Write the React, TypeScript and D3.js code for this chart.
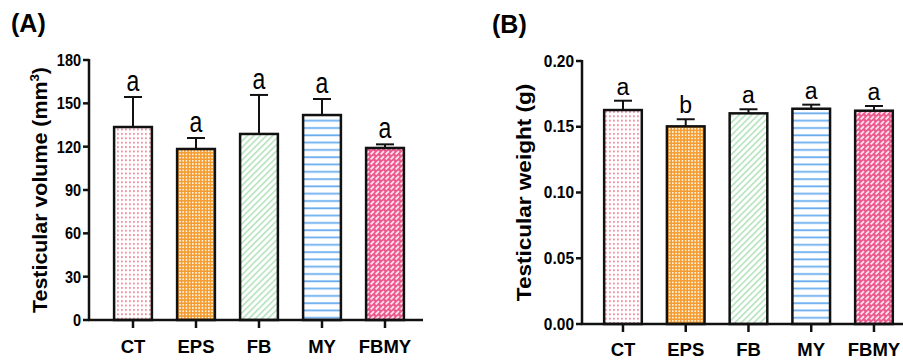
import React from 'react';
import * as d3 from 'd3';

const groups = ['CT', 'EPS', 'FB', 'MY', 'FBMY'];
const volumeMean = [133.6, 118.4, 128.8, 141.9, 119.1];
const volumeErr = [20.8, 7.6, 27, 11.1, 2.5];
const volumeLetters = ['a', 'a', 'a', 'a', 'a'];
const volumeTicks = [0, 30, 60, 90, 120, 150, 180];
const weightMean = [0.1627, 0.1503, 0.1602, 0.1637, 0.1622];
const weightErr = [0.0071, 0.0054, 0.0031, 0.0031, 0.0036];
const weightLetters = ['a', 'b', 'a', 'a', 'a'];
const weightTicks = [0, 0.05, 0.1, 0.15, 0.2];

const fills = ['url(#pCT)', 'url(#pEPS)', 'url(#pFB)', 'url(#pMY)', 'url(#pFBMY)'];
const font = '"Liberation Sans", Arial, sans-serif';

type PanelProps = {
  tag: string; tagX: number; tagY: number;
  axisX: number; axisEnd: number; yTop: number; yBottom: number;
  bandRange: [number, number];
  max: number; ticks: number[]; fmt: (v: number) => string;
  mean: number[]; err: number[]; letters: string[];
  title: string; sup?: string; titleX: number; titleSize: number; titleStretch: number;
  tickSize: number; tickStretch: number; letterSize: number; letterStretch: number;
  labelY: number;
};

function Panel(p: PanelProps) {
  const y = d3.scaleLinear().domain([0, p.max]).range([p.yBottom, p.yTop]);
  const x = d3.scaleBand<string>().domain(groups).range(p.bandRange).paddingInner(0.4).paddingOuter(0.2);
  const bw = x.bandwidth();
  const cy = (p.yTop + p.yBottom) / 2;
  return (
    <g fontFamily={font}>
      <text x={p.tagX} y={p.tagY} fontSize={25} fontWeight="bold">{p.tag}</text>
      <text transform={`translate(${p.titleX},${cy}) rotate(-90) scale(${p.titleStretch},1)`} textAnchor="middle"
        fontSize={p.titleSize} fontWeight="bold">
        {p.title}
        {p.sup && <tspan dy={-8} fontSize={p.titleSize * 0.62}>{p.sup}</tspan>}
        {p.sup && <tspan dy={8}>)</tspan>}
      </text>
      {groups.map((g, i) => {
        const x0 = x(g)!;
        const cx = x0 + bw / 2;
        const top = y(p.mean[i]);
        const et = y(p.mean[i] + p.err[i]);
        return (
          <g key={g}>
            <rect x={x0} y={top} width={bw} height={p.yBottom - top} fill="#fff" />
            <rect x={x0} y={top} width={bw} height={p.yBottom - top} fill={fills[i]} stroke="#111" strokeWidth={2.5} />
            <line x1={cx} x2={cx} y1={top} y2={et} stroke="#111" strokeWidth={2} />
            <line x1={cx - 9} x2={cx + 9} y1={et} y2={et} stroke="#111" strokeWidth={2} />
            <text transform={`translate(${cx},${et - 6}) scale(1,${p.letterStretch})`} textAnchor="middle"
              fontSize={p.letterSize}>{p.letters[i]}</text>
            <line x1={cx} x2={cx} y1={p.yBottom} y2={p.yBottom + 8} stroke="#111" strokeWidth={2.5} />
            <text x={cx} y={p.labelY} textAnchor="middle" fontSize={18.5} fontWeight="bold">{g}</text>
          </g>
        );
      })}
      {p.ticks.map(t => (
        <g key={t}>
          <line x1={p.axisX - 6} x2={p.axisX} y1={y(t)} y2={y(t)} stroke="#111" strokeWidth={2.5} />
          <text transform={`translate(${p.axisX - 8},${y(t)}) scale(1,${p.tickStretch})`} textAnchor="end"
            dominantBaseline="central" fontSize={p.tickSize} fontWeight="bold">{p.fmt(t)}</text>
        </g>
      ))}
      <line x1={p.axisX} x2={p.axisX} y1={p.yTop - 1} y2={p.yBottom} stroke="#111" strokeWidth={2.5} />
      <line x1={p.axisX - 1} x2={p.axisEnd} y1={p.yBottom} y2={p.yBottom} stroke="#111" strokeWidth={2.5} />
    </g>
  );
}

export default function App() {
  return (
    <div style={{ position: 'absolute', left: 0, top: 0 }}>
      <svg width={903} height={361} style={{ display: 'block', background: '#fff' }}>
        <defs>
          <pattern id="pCT" patternUnits="userSpaceOnUse" width={4} height={4.4}>
            <rect width={4} height={4.4} fill="#fff" />
            <rect x={1} y={1} width={1.8} height={1.8} fill="#f2899c" />
          </pattern>
          <pattern id="pEPS" patternUnits="userSpaceOnUse" width={3.2} height={3.2}>
            <rect width={3.2} height={3.2} fill="#f39a2c" />
            <rect x={0} y={0} width={1.7} height={1.7} fill="#fff2e0" />
          </pattern>
          <pattern id="pFB" patternUnits="userSpaceOnUse" width={4.5} height={4.5} patternTransform="rotate(45)">
            <rect width={4.5} height={4.5} fill="#fff" />
            <rect x={0} y={0} width={1.6} height={4.5} fill="#b5e3bd" />
          </pattern>
          <pattern id="pMY" patternUnits="userSpaceOnUse" width={10} height={7.3}>
            <rect width={10} height={7.3} fill="#fff" />
            <rect x={0} y={3} width={10} height={1.8} fill="#6aaef0" />
          </pattern>
          <pattern id="pFBMY" patternUnits="userSpaceOnUse" width={5} height={5}>
            <rect width={5} height={5} fill="#ec5a8e" />
            <line x1={0.6} y1={4.4} x2={3.9} y2={1.1} stroke="#fde4ee" strokeWidth={1.9} />
          </pattern>
        </defs>
        <Panel tag="(A)" tagX={11} tagY={32} axisX={89} axisEnd={423} yTop={60} yBottom={320}
          bandRange={[101.5, 416.5]} max={180} ticks={volumeTicks} fmt={d3.format('d')}
          mean={volumeMean} err={volumeErr} letters={volumeLetters}
          title="Testicular volume (mm" sup="3" titleX={47} titleSize={20} titleStretch={1.07}
          tickSize={14.5} tickStretch={1.15} letterSize={23} letterStretch={1.3} labelY={353} />
        <Panel tag="(B)" tagX={492} tagY={33} axisX={582} axisEnd={903} yTop={61} yBottom={324}
          bandRange={[591.6, 905.35]} max={0.2} ticks={weightTicks} fmt={d3.format('.2f')}
          mean={weightMean} err={weightErr} letters={weightLetters}
          title="Testicular weight (g)" titleX={531} titleSize={20.5} titleStretch={1.1}
          tickSize={15.5} tickStretch={1.05} letterSize={23} letterStretch={1.08} labelY={356} />
      </svg>
    </div>
  );
}
